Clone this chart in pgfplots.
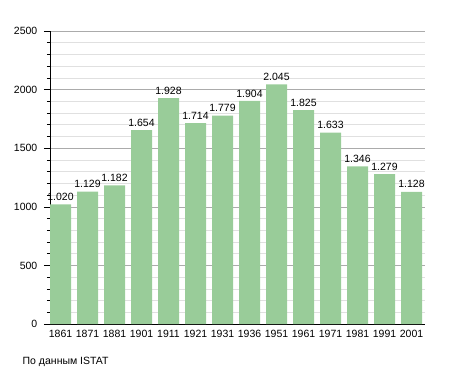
\documentclass[border=0pt]{standalone}
\usepackage{pgfplots}
\pgfplotsset{compat=1.18}
\usepackage{fontspec}
\setmainfont{Liberation Sans}
\definecolor{bargreen}{HTML}{99CC99}
\begin{document}
\fontsize{10.5}{12}\selectfont
\begin{tikzpicture}
\useasboundingbox (-50pt,-49pt) rectangle (405pt,324pt);
\begin{axis}[
  scale only axis, width=375pt, height=293pt,
  xmin=-0.39, xmax=13.5, ymin=0, ymax=2500,
  axis x line*=bottom, axis y line*=left,
  axis line style={black, line width=0.8pt, -},
  ytick={0,500,...,2500}, minor y tick num=4,
  ymajorgrids, yminorgrids,
  major grid style={color=black!33, line width=0.6pt},
  minor grid style={color=black!12, line width=0.6pt},
  tick align=outside,
  major tick length=6pt, minor tick length=3pt,
  y tick style={black, line width=0.6pt},
  xtick={0,...,13},
  xticklabels={1861,1871,1881,1901,1911,1921,1931,1936,1951,1961,1971,1981,1991,2001},
  x tick style={draw=none},
  /pgf/number format/assume math mode=true,
  yticklabel style={/pgf/number format/1000 sep={}, xshift=-3pt},
  ticklabel style={font=\fontsize{10.5}{12}\selectfont},
  xticklabel style={yshift=4pt},
]
\addplot[ybar, bar width=21pt, fill=bargreen, draw=none,
  nodes near coords={\pgfmathprintnumber[1000 sep={.}]{\pgfplotspointmeta}},
  nodes near coords style={font=\fontsize{10.5}{12}\selectfont, black}]
coordinates {(0,1020) (1,1129) (2,1182) (3,1654) (4,1928) (5,1714) (6,1779) (7,1904) (8,2045) (9,1825) (10,1633) (11,1346) (12,1279) (13,1128)};
\end{axis}
\node[anchor=west, font=\fontsize{10.5}{12}\selectfont] at (-31pt,-38pt) {По данным ISTAT};
\end{tikzpicture}
\end{document}
